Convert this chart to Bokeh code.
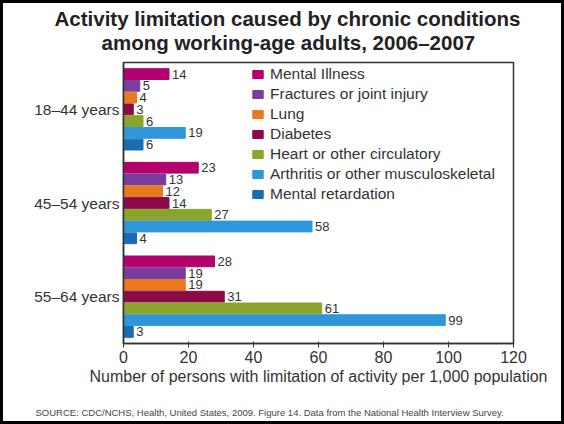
from bokeh.plotting import figure
from bokeh.models import FactorRange, Range1d, Title, FixedTicker, ColumnDataSource
from bokeh.transform import dodge
from bokeh.core.properties import value
from bokeh.embed import file_html
from bokeh.resources import INLINE

# ---- data ----
groups = ["18–44 years", "45–54 years", "55–64 years"]
conditions = ["Mental Illness", "Fractures or joint injury", "Lung", "Diabetes",
              "Heart or other circulatory", "Arthritis or other musculoskeletal",
              "Mental retardation"]
mental_illness = [14, 23, 28]
fractures = [5, 13, 19]
lung = [4, 12, 19]
diabetes = [3, 14, 31]
heart = [6, 27, 61]
arthritis = [19, 58, 99]
mental_retardation = [6, 4, 3]
series = [mental_illness, fractures, lung, diabetes, heart, arthritis, mental_retardation]
colors = ["#B3006D", "#7A3D9E", "#E8791F", "#8A0B47", "#8AA42C", "#2F96DA", "#1B6DB3"]
x_ticks = [0, 20, 40, 60, 80, 100, 120]

title_1 = "Activity limitation caused by chronic conditions"
title_2 = "among working-age adults, 2006–2007"
x_label = "Number of persons with limitation of activity per 1,000 population"
source_note = ("SOURCE: CDC/NCHS, Health, United States, 2009. Figure 14. "
               "Data from the National Health Interview Survey.")

FONT = "Liberation Sans"
TXT = "#333333"

W, H = 564, 424
p = figure(width=W, height=H,
           y_range=FactorRange(factors=groups[::-1], range_padding=0),
           x_range=Range1d(0, 120),
           output_backend="svg", toolbar_location=None,
           min_border_left=120, min_border_right=54,
           min_border_top=59, min_border_bottom=84)
p.styles = {"border": "3px solid black"}

pitch = 0.1255
bar_h = 0.115
for i, (name, vals, col) in enumerate(zip(conditions, series, colors)):
    off = (3 - i) * pitch
    src = ColumnDataSource(dict(group=groups, val=vals, lab=[str(v) for v in vals]))
    ypos = dodge("group", off, range=p.y_range)
    p.hbar(y=ypos, left=0, right="val", height=bar_h, source=src,
           fill_color=col, line_color=col, legend_label=name)
    p.text(x="val", y=ypos, text="lab", source=src, x_offset=3,
           text_baseline="middle", text_align="left",
           text_font=value(FONT), text_font_size="13px", text_color=TXT)

p.xgrid.grid_line_color = None
p.ygrid.grid_line_color = None
p.outline_line_color = "#333333"
p.outline_line_width = 1.5

xa = p.xaxis[0]
xa.ticker = FixedTicker(ticks=x_ticks)
xa.minor_tick_line_color = None
xa.major_tick_out = 4
xa.major_tick_in = 2
xa.major_label_standoff = 3
xa.major_label_text_font = FONT
xa.major_label_text_font_size = "16px"
xa.major_label_text_color = TXT
xa.axis_label = x_label
xa.axis_label_text_font = FONT
xa.axis_label_text_font_size = "16px"
xa.axis_label_text_font_style = "normal"
xa.axis_label_text_color = TXT
xa.axis_label_standoff = 2
xa.axis_line_color = "#333333"
xa.major_tick_line_color = "#333333"
xa.axis_line_width = 1.5

ya = p.yaxis[0]
ya.major_tick_line_color = None
ya.minor_tick_line_color = None
ya.major_tick_out = 0
ya.major_tick_in = 0
ya.major_label_standoff = 4
ya.major_label_text_font = FONT
ya.major_label_text_font_size = "15.5px"
ya.major_label_text_color = TXT
ya.axis_line_color = "#333333"
ya.axis_line_width = 1.5

lg = p.legend[0]
lg.location = (128, 140)
lg.padding = 0
lg.margin = 0
lg.spacing = 2
lg.label_height = 17
lg.glyph_width = 13
lg.glyph_height = 10
lg.label_standoff = 6
lg.label_text_font = FONT
lg.label_text_font_size = "15.5px"
lg.label_text_color = TXT
lg.border_line_color = None
lg.background_fill_alpha = 0

# two-line title: line 2 next to the frame (lifted by its standoff),
# line 1 above it, pulled down by a negative standoff
t2 = Title(text=title_2, align="left", offset=-22, standoff=18,
           text_font=FONT, text_font_size="20.5px", text_font_style="bold",
           text_color="#222222")
t1 = Title(text=title_1, align="left", offset=-69, standoff=0,
           text_font=FONT, text_font_size="20.5px", text_font_style="bold",
           text_color="#222222")
try:
    t1.standoff = -20
except Exception:
    t1.standoff = 0
    t2.standoff = 6
p.add_layout(t2, "above")
p.add_layout(t1, "above")

# source line at the bottom; a leading empty line pushes it down
p.add_layout(Title(text="\n" + source_note, align="left", offset=-88, standoff=12,
                   text_font=FONT, text_font_size="9.5px", text_font_style="normal",
                   text_color="#444444"), "below")

open("out.html", "w").write(file_html(p, INLINE))
